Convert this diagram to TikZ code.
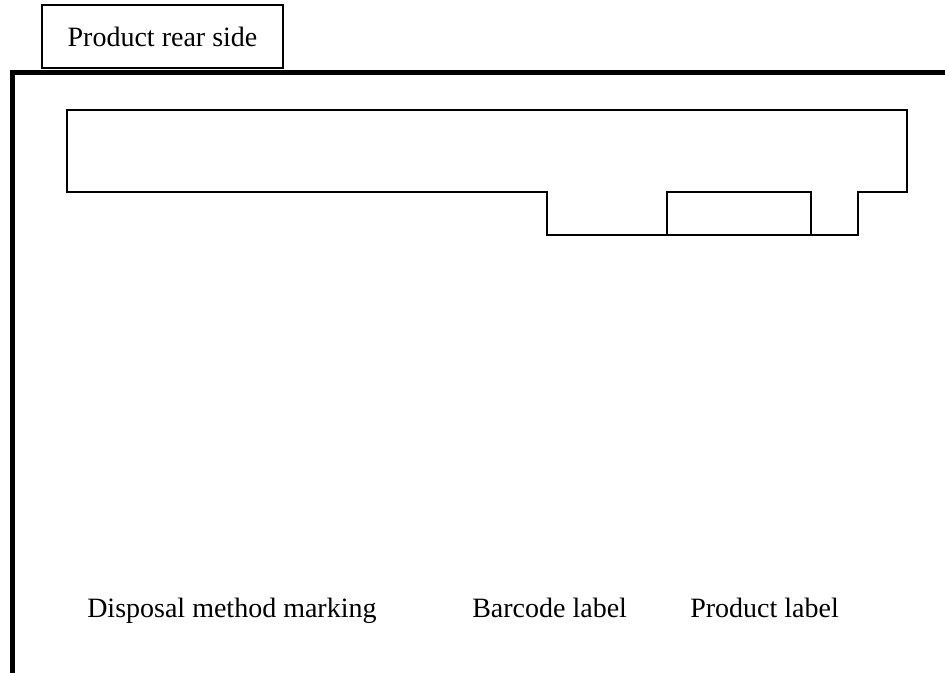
\documentclass[tikz,border=0pt]{standalone}
\usepackage{fontspec}
\setmainfont{Liberation Serif}
\usetikzlibrary{positioning}

\tikzset{
    thinline/.style={line width=1.5pt},
    frameline/.style={line width=3.6pt},
    lbl/.style={font=\fontsize{21}{25}\selectfont, inner sep=0pt}
}

\begin{document}
\begin{tikzpicture}[x=0.75pt,y=-0.75pt]
    \useasboundingbox (0,0) rectangle (945,673);

    % Title box
    \node[draw, thinline, minimum width=241*0.75pt, minimum height=63*0.75pt, lbl] (title) at (162.5,36.5) {Product rear side};

    % Rear panel (thick frame)
    \draw[frameline] (12.5,690) -- (12.5,72.5) -- (960,72.5);

    % Board outline with lower step
    \draw[thinline] (67,110) -- (907,110) -- (907,192) -- (858,192) -- (858,235)
        -- (547,235) -- (547,192) -- (67,192) -- cycle;

    % Product label slot
    \draw[thinline] (667,235) -- (667,192) -- (811,192) -- (811,235);

    % Labels
    \node[lbl, anchor=base west] (disposal) at (87,617) {Disposal method marking};
    \node[lbl, anchor=base west] (barcode) at (472,617) {Barcode label};
    \node[lbl, anchor=base west] (prodlabel) at (690,617) {Product label};
\end{tikzpicture}
\end{document}
